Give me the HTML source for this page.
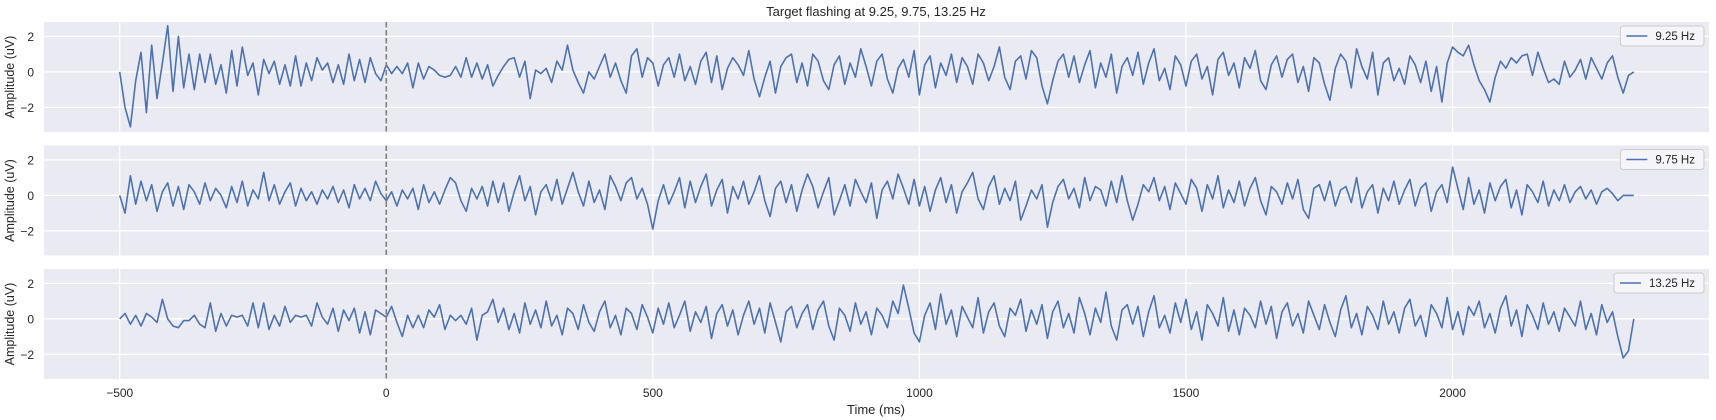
<!DOCTYPE html>
<html><head><meta charset="utf-8"><style>
body{margin:0;background:#fff}
svg{display:block;font-family:"Liberation Sans","DejaVu Sans",sans-serif}
</style></head><body>
<svg id="chart" width="1716" height="420" viewBox="0 0 1716 420">
<text x="876" y="16" text-anchor="middle" font-size="13" fill="#262626">Target flashing at 9.25, 9.75, 13.25 Hz</text>
<text x="876" y="414" text-anchor="middle" font-size="13" fill="#262626">Time (ms)</text>
</svg>
<script>
const tStart = -500, tStep = 10;
const xTicks = [-500, 0, 500, 1000, 1500, 2000];
const yTicks = [-2, 0, 2];
const labels = ["9.25 Hz", "9.75 Hz", "13.25 Hz"];
const series1 = [0,-2.0,-3.1,-0.5,1.1,-2.3,1.5,-1.5,0.5,2.6,
-1.1,2.0,-0.9,1.0,-1.0,1.0,-0.6,1.0,-0.7,0.4,
-1.2,1.2,-0.8,1.4,-0.2,0.5,-1.3,0.7,-0.1,0.6,
-0.7,0.4,-0.8,0.9,-0.8,0.5,-0.5,0.8,0.1,0.5,
-0.6,0.4,-0.7,1.0,-0.5,0.7,-0.6,0.8,-0.1,-0.5,
0.4,-0.1,0.3,-0.1,0.5,-0.9,0.5,-0.4,0.3,0.1,
-0.2,-0.3,-0.2,0.3,-0.3,0.8,-0.3,0.5,-0.4,0.4,
-0.8,-0.2,0.3,0.7,0.8,-0.3,0.6,-1.5,0.1,-0.1,
0.2,-0.6,0.6,0.1,1.5,0.1,-0.6,-1.2,0.0,-0.4,
0.3,1.0,-0.3,0.5,-0.5,-1.2,0.9,1.3,-0.3,0.8,
0.5,-0.8,0.4,0.8,-0.3,1.0,-0.5,0.3,-0.7,0.6,
1.1,-0.6,0.9,-1.0,0.2,0.8,0.4,-0.2,1.2,-0.4,
-1.4,-0.3,0.6,-1.2,0.3,0.8,1.0,-0.6,0.5,-0.8,
1.0,0.6,-0.5,-1.0,0.4,0.9,-0.7,0.5,-0.3,1.3,
0.3,-0.8,0.6,1.0,-0.4,-1.2,0.2,0.7,-0.3,1.2,
-1.3,0.4,0.9,-0.9,0.5,-0.2,1.0,-0.6,0.8,0.3,
-0.7,1.0,0.5,-0.5,0.3,1.4,-0.3,-1.0,0.6,0.9,
-0.4,1.2,0.8,-0.8,-1.8,-0.5,0.6,1.0,-0.3,0.9,
-0.6,0.4,1.2,-0.9,0.5,-0.3,1.0,-1.2,0.3,0.8,
-0.2,1.1,-0.7,0.5,1.3,-0.5,0.2,-1.0,0.9,0.4,
-0.8,0.6,1.0,-0.4,0.3,-1.3,0.7,1.1,-0.2,0.5,
-0.9,0.8,0.2,1.2,-0.5,-1.0,0.4,0.9,-0.3,0.7,
1.0,-0.6,0.3,-1.1,0.8,0.5,-0.7,-1.6,0.2,1.0,
0.6,-0.9,1.3,0.3,-0.4,1.1,-1.3,0.5,0.8,-0.5,
0.2,-0.7,0.9,0.4,-0.6,0.6,-1.1,0.3,-1.7,0.5,
1.4,1.1,0.9,1.5,0.4,-0.5,-1.0,-1.7,-0.3,0.6,
0.2,0.8,0.5,0.9,1.0,-0.2,1.1,0.2,-0.6,-0.4,
-0.7,0.6,-0.3,0.1,0.7,-0.4,0.8,0.2,-0.4,0.5,
0.9,-0.3,-1.2,-0.2,0.0];
const series2 = [0,-1.0,1.1,-0.5,0.8,-0.3,0.6,-0.9,0.2,0.7,
-0.6,0.5,-0.8,0.6,0.2,-0.5,0.7,-0.3,0.4,0.0,
-0.7,0.5,-0.4,0.8,-0.6,0.3,-0.2,1.3,-0.3,0.6,
-0.5,0.2,0.7,-0.6,0.4,-0.3,0.2,-0.5,0.3,-0.2,
0.5,-0.4,0.3,-0.7,0.6,-0.2,0.4,-0.3,0.8,0.1,
-0.3,0.2,-0.6,0.3,-0.2,0.4,-0.8,0.6,-0.4,0.2,
-0.5,0.3,1.0,0.7,-0.3,-0.9,0.4,-0.2,0.5,-0.6,
0.8,-0.4,0.7,-0.9,0.2,1.1,-0.3,0.5,-1.1,0.2,
0.6,-0.3,0.9,-0.5,0.4,1.3,0.2,-0.6,0.8,-0.4,
0.3,-0.8,1.1,0.5,-0.3,0.7,1.0,-0.2,0.4,-0.5,
-1.9,-0.3,0.6,-0.5,0.2,1.0,-0.7,0.8,-0.4,0.5,
1.2,-0.6,0.3,0.9,-1.0,0.5,-0.2,0.8,-0.5,0.2,
1.1,-0.3,-1.2,0.4,0.8,-0.4,0.6,-0.9,0.3,1.2,
0.5,-0.7,0.2,1.0,-1.1,-0.3,0.6,-0.6,0.9,0.2,
-0.4,0.7,-1.3,0.3,0.8,-0.2,1.2,0.4,-0.5,0.9,
-0.6,0.5,-0.9,0.3,1.0,-0.4,0.6,-1.0,0.2,0.7,
1.3,-0.2,-0.8,0.5,1.1,-0.5,0.4,-0.3,0.8,-1.4,
-0.6,0.3,-0.2,0.6,-1.8,-0.4,0.5,0.9,-0.2,0.4,
-0.7,1.0,-0.3,0.5,0.3,-0.6,0.8,-0.4,1.1,-0.3,
-1.4,-0.5,0.6,0.2,1.0,-0.3,0.5,-0.8,0.7,0.1,
-0.5,0.9,0.4,-0.9,0.6,-0.2,1.1,-0.7,0.3,-0.4,
0.8,-0.6,0.4,1.0,-0.3,-1.1,0.5,0.2,-0.5,0.7,
-0.2,0.9,-0.8,-1.3,0.4,0.6,-0.3,0.8,-0.6,0.3,
0.5,-0.4,1.0,-0.7,0.2,0.6,-1.0,0.4,-0.3,0.8,
-0.5,0.3,0.9,-0.6,0.4,0.7,-0.9,0.2,0.6,-0.4,
1.6,0.4,-0.8,1.0,-0.5,0.3,-1.0,0.7,-0.3,0.5,
0.9,-0.7,0.3,-1.1,0.6,0.2,-0.4,0.8,-0.6,0.3,
-0.3,0.6,-0.4,0.2,0.5,-0.2,0.3,-0.5,0.2,0.4,
0.1,-0.3,0.0,0.0,0.0];
const series3 = [0,0.3,-0.3,0.2,-0.4,0.3,0.1,-0.2,1.1,0.0,
-0.4,-0.5,-0.1,-0.1,0.2,-0.3,-0.5,0.9,-0.7,0.3,
-0.4,0.2,0.1,0.2,-0.4,0.9,-0.5,0.9,-0.6,0.2,
-0.4,0.7,-0.2,0.2,0.1,0.2,-0.4,0.9,0.1,-0.3,
0.6,-0.7,0.5,-0.1,0.6,-0.8,0.4,-0.9,0.5,0.3,
0.1,0.7,-0.2,-1.0,0.2,-0.5,0.2,-0.5,0.5,0.1,
0.8,-0.6,0.2,-0.1,0.2,-0.3,0.6,-1.2,0.2,0.4,
1.1,-0.2,0.6,-0.6,0.3,-0.8,0.9,-0.3,0.5,-0.5,
1.0,-0.4,0.2,-0.9,0.6,0.3,-0.6,0.8,-0.2,-0.7,
0.4,1.0,-0.5,0.2,-0.9,0.6,0.3,-0.6,0.8,0.1,
-0.8,0.6,-0.3,0.9,-0.5,0.2,1.0,-0.7,0.4,-0.2,
0.7,-1.1,0.3,0.8,-0.4,0.5,-0.9,0.2,1.0,-0.3,
0.6,-0.8,0.9,-0.2,-1.3,0.4,0.7,-0.5,0.3,0.8,
-0.6,0.5,1.0,-0.4,-1.2,0.6,0.2,-0.7,0.9,-0.3,
0.4,-0.9,0.6,0.2,-0.5,1.0,0.3,1.9,0.6,-0.8,
-1.3,0.2,0.9,-0.6,1.4,-0.3,0.5,-1.0,0.7,0.1,
-0.5,1.2,-0.8,0.4,0.9,-0.4,-1.0,0.6,0.2,1.1,
-0.7,0.5,-0.3,0.8,-1.1,0.4,1.0,-0.5,0.3,-0.8,
1.2,0.3,-0.9,0.6,-0.2,1.5,-0.4,-1.2,0.5,0.8,
-0.3,0.7,-1.0,0.4,1.3,-0.5,0.2,-0.8,0.9,-0.2,
1.1,-0.6,0.4,-1.2,0.8,0.3,-0.4,1.2,-0.7,0.5,
-0.9,0.6,0.2,-0.5,1.0,-0.3,0.7,-1.1,0.4,0.9,
-0.4,0.3,-0.8,1.0,0.2,-0.6,0.8,-0.2,-1.0,0.5,
1.3,-0.5,0.3,-0.9,0.7,0.2,-0.6,1.0,-0.3,0.4,
-0.8,0.6,1.1,-0.4,0.2,-1.0,0.8,0.3,-0.5,1.2,
-0.6,0.4,-0.9,0.7,0.2,1.0,-0.5,0.3,-0.8,0.6,
1.3,-0.4,0.5,-1.0,0.8,0.2,-0.6,0.9,-0.3,0.4,
-0.7,0.6,0.1,-0.4,1.0,-0.6,0.3,-0.9,0.8,-0.2,
0.4,-1.0,-2.2,-1.8,0.0];

const NS = "http://www.w3.org/2000/svg";
const svg = document.getElementById("chart");
const L = 44, R = 1709, xMin = -642, xMax = 2481;
const yMin = -3.39, yMax = 2.81, PH = 110;
const tops = [22, 145.5, 269];
const all = [series1, series2, series3];
const xs = t => L + (t - xMin) / (xMax - xMin) * (R - L);
function mk(tag, attrs){const e=document.createElementNS(NS,tag);for(const k in attrs)e.setAttribute(k,attrs[k]);svg.appendChild(e);return e;}

all.forEach((data, p) => {
  const top = tops[p];
  const ys = v => top + (yMax - v) / (yMax - yMin) * PH;
  const bg = mk("rect",{x:L,y:top,width:R-L,height:PH,fill:"#EAEAF2"});
  
  
  xTicks.forEach(t => {
    const g = mk("line",{x1:xs(t),x2:xs(t),y1:top,y2:top+PH,stroke:"#fff","stroke-width":1.2});
    
    
  });
  yTicks.forEach(v => {
    const g = mk("line",{x1:L,x2:R,y1:ys(v),y2:ys(v),stroke:"#fff","stroke-width":1.2});
    
    
    const tx = mk("text",{x:34,y:ys(v)+4.5,"text-anchor":"end","font-size":12,fill:"#262626"});
    tx.textContent = v < 0 ? "\u2212" + Math.abs(v) : String(v);
    
    
  });
  const yl = mk("text",{x:0,y:0,transform:`translate(14,${top+PH/2}) rotate(-90)`,"text-anchor":"middle","font-size":12.5,fill:"#262626"});
  yl.textContent = "Amplitude (uV)";
  
  
  const d = data.map((v,i) => (i?"L":"M") + xs(tStart + i*tStep).toFixed(1) + "," + ys(v).toFixed(1)).join("");
  const path = mk("path",{d:d,fill:"none",stroke:"#4C72B0","stroke-width":1.6,"stroke-linejoin":"round"});
  
  
  const vl = mk("line",{x1:xs(0),x2:xs(0),y1:top,y2:top+PH,stroke:"#808080","stroke-width":1.6,"stroke-dasharray":"5.5,2.5"});
  
  
  const lg = mk("rect",{x:1627,y:top+4,width:77,height:20,rx:3,fill:"#F5F5F9",stroke:"#CCCCCC","stroke-width":1});
  
  
  const ll = mk("line",{x1:1632,x2:1653,y1:top+14,y2:top+14,stroke:"#4C72B0","stroke-width":1.6});
  
  
  const lt = mk("text",{x:1662,y:top+18,"font-size":11.5,fill:"#262626"});
  lt.textContent = labels[p];
  
  
  const w = lt.getComputedTextLength();
  const bx = 1704 - (w + 44);
  lg.setAttribute("x", bx);
  lg.setAttribute("width", w + 44);
  ll.setAttribute("x1", bx + 6);
  ll.setAttribute("x2", bx + 27);
  lt.setAttribute("x", bx + 35);
});
xTicks.forEach(t => {
  const tx = mk("text",{x:xs(t),y:397,"text-anchor":"middle","font-size":12,fill:"#262626"});
  tx.textContent = t < 0 ? "\u2212" + Math.abs(t) : String(t);
  
  
});
</script>
</body></html>
